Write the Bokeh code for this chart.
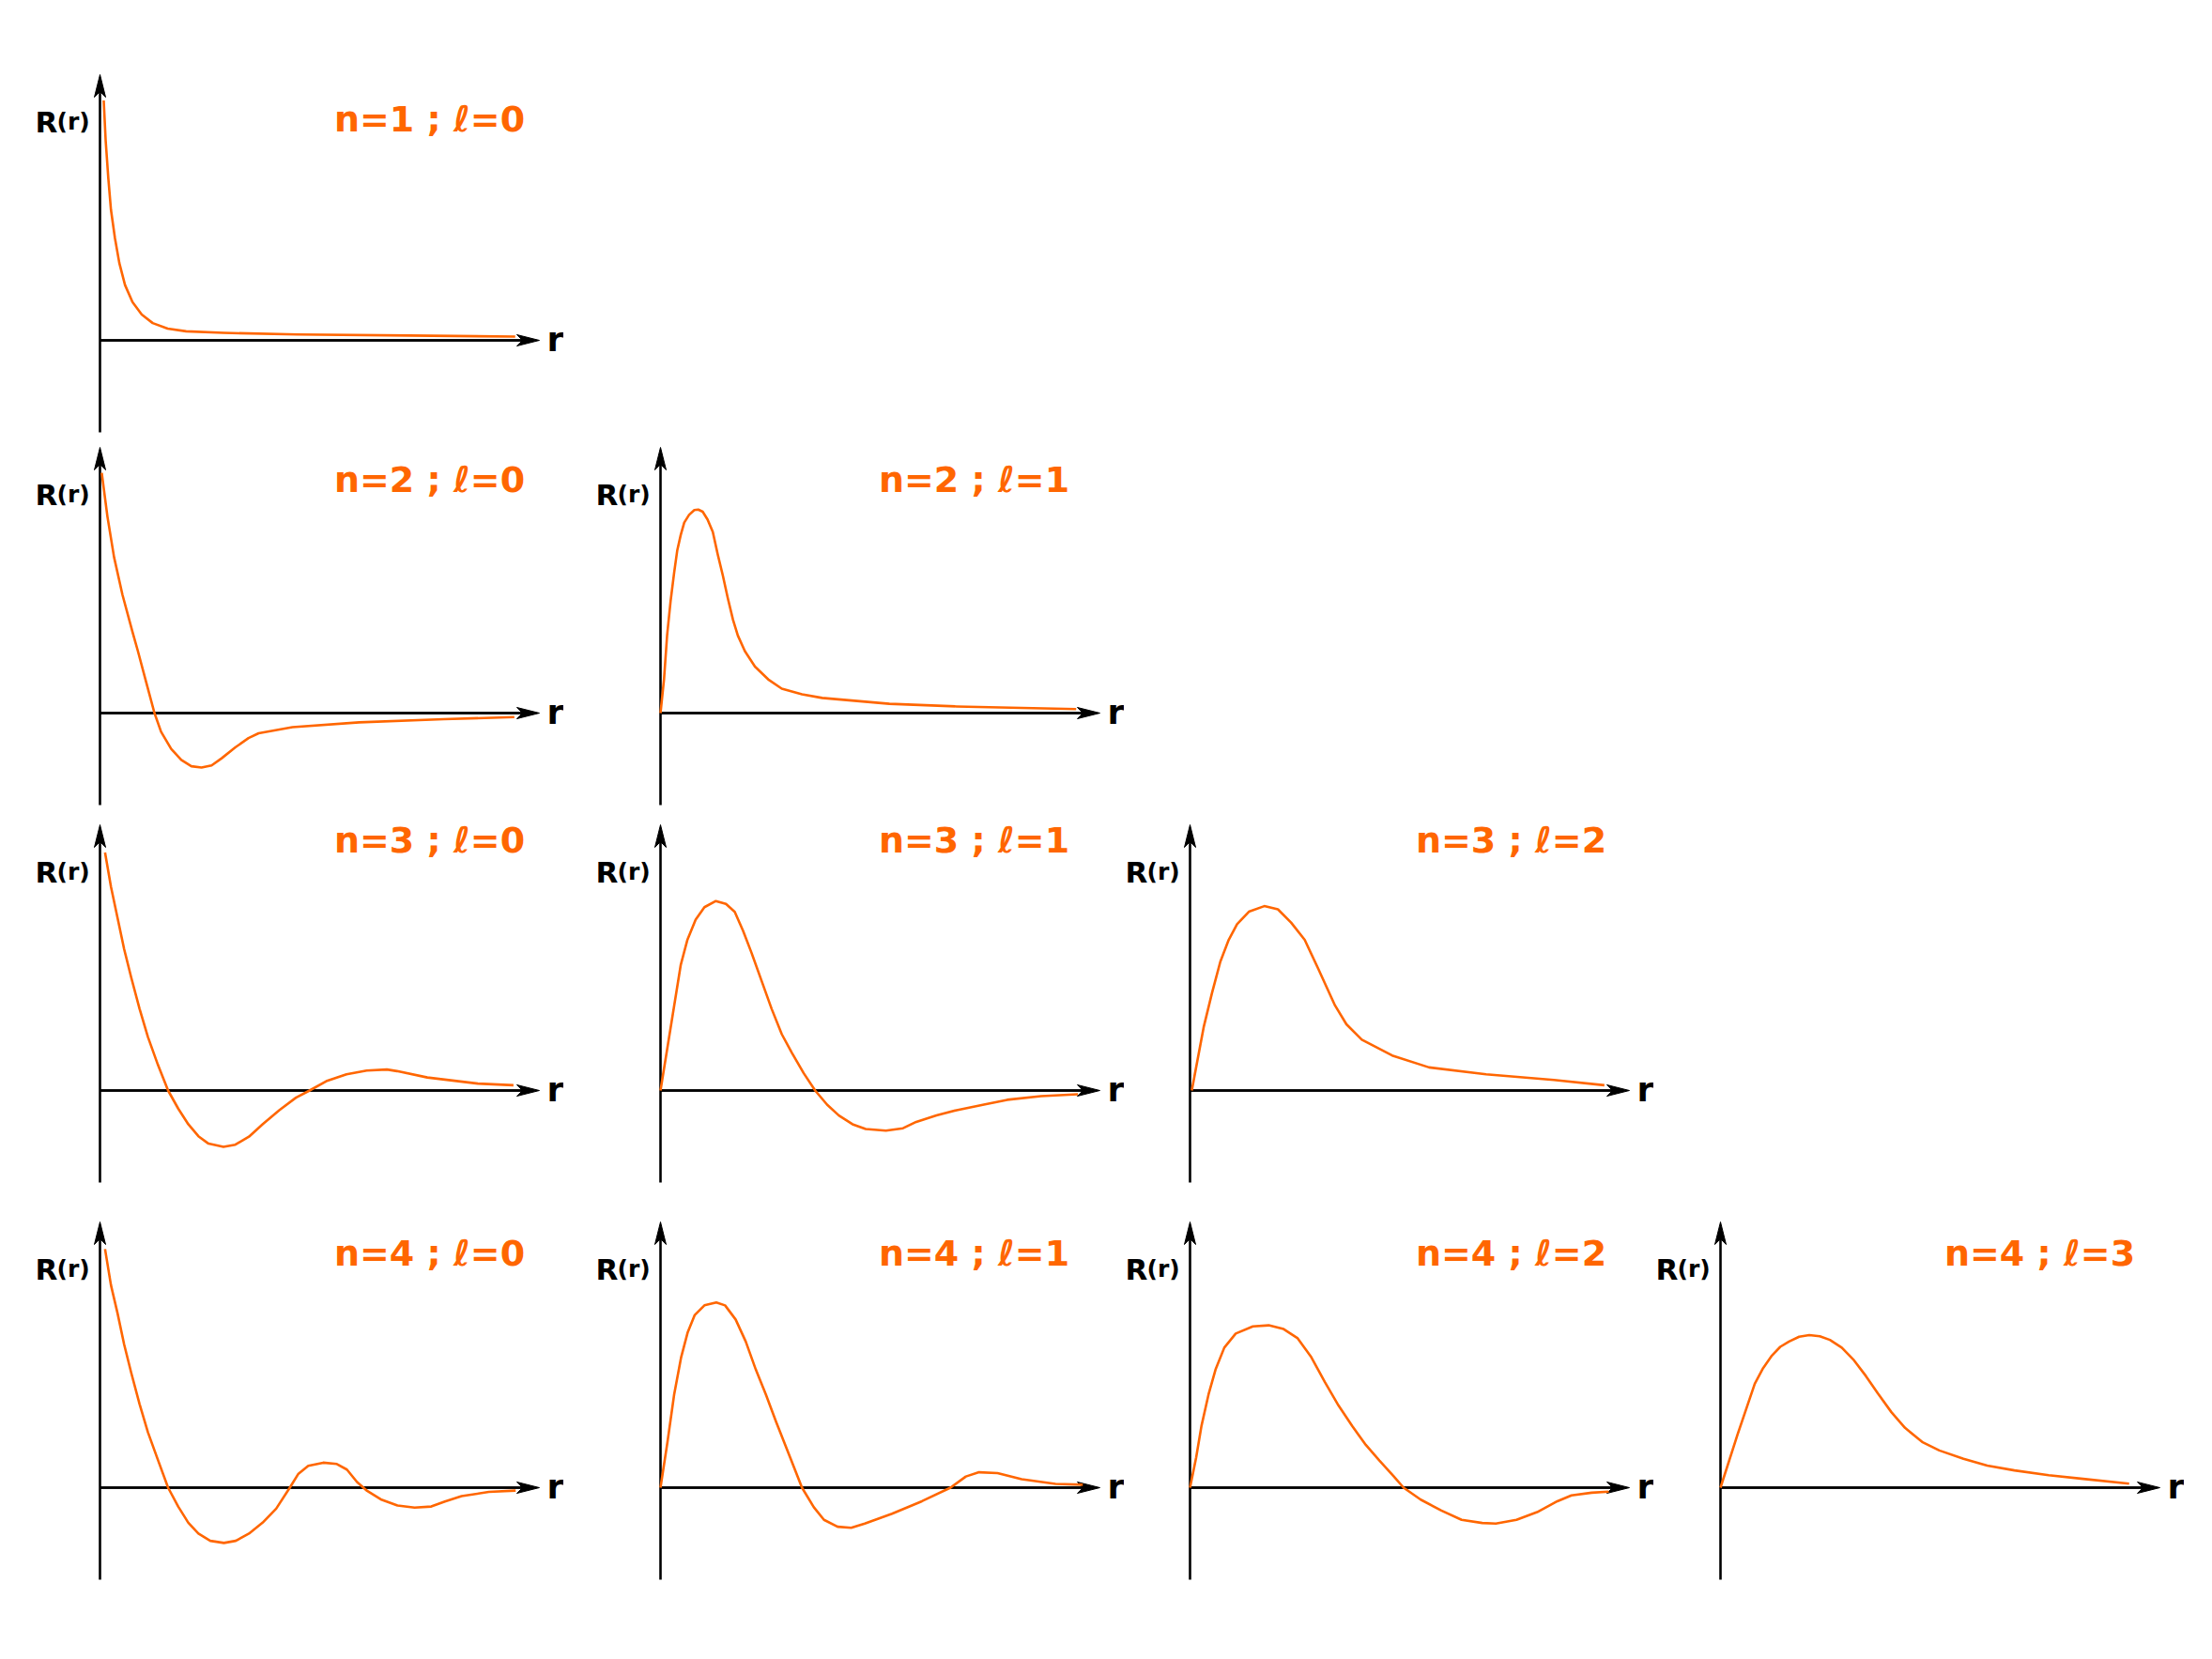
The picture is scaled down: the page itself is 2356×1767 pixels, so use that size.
from bokeh.plotting import figure
from bokeh.layouts import column, row
from bokeh.models import Range1d, Spacer
from bokeh.core.properties import value
from bokeh.embed import file_html
from bokeh.resources import INLINE

# ---------------- data (r along axis 0..10, R with top of axis = 10) ----------------
r_10 = [0.085, 0.13, 0.19, 0.25, 0.34, 0.44, 0.57, 0.74, 0.95, 1.2, 1.54, 1.96, 2.81, 4.5, 7.04, 9.45]
R_10 = [9.03, 7.5, 6.09, 4.91, 3.85, 2.91, 2.08, 1.44, 0.97, 0.65, 0.44, 0.34, 0.28, 0.22, 0.18, 0.14]

r_20 = [0.04, 0.17, 0.32, 0.51, 0.74, 0.86, 1.05, 1.24, 1.39, 1.62, 1.85, 2.08, 2.31, 2.54, 2.77,
        3.08, 3.38, 3.61, 4.38, 5.9, 7.82, 9.43]
R_20 = [9.04, 7.39, 5.87, 4.46, 3.05, 2.35, 1.17, 0.0, -0.70, -1.35, -1.76, -2.0, -2.05, -1.97, -1.70,
        -1.29, -0.94, -0.76, -0.53, -0.35, -0.23, -0.15]

r_21 = [0.0, 0.08, 0.15, 0.23, 0.31, 0.38, 0.46, 0.54, 0.65, 0.77, 0.86, 0.96, 1.07, 1.19, 1.30, 1.42,
        1.53, 1.65, 1.76, 1.92, 2.15, 2.45, 2.76, 3.22, 3.68, 5.21, 6.74, 9.46]
R_21 = [0.0, 1.27, 2.92, 4.22, 5.28, 6.11, 6.70, 7.17, 7.46, 7.64, 7.66, 7.58, 7.29, 6.82, 5.99, 5.17,
        4.34, 3.51, 2.92, 2.33, 1.75, 1.27, 0.92, 0.71, 0.57, 0.35, 0.25, 0.15]

r_30 = [0.115, 0.25, 0.40, 0.55, 0.71, 0.90, 1.09, 1.32, 1.55, 1.78, 2.01, 2.24, 2.47, 2.81, 3.08, 3.39,
        3.70, 4.08, 4.46, 4.77, 5.15, 5.61, 6.07, 6.53, 6.76, 7.45, 8.6, 9.41]
R_30 = [8.96, 7.67, 6.49, 5.32, 4.26, 3.08, 2.02, 0.96, 0.0, -0.68, -1.27, -1.72, -2.0, -2.12, -2.04, -1.74,
        -1.27, -0.74, -0.27, 0.0, 0.35, 0.61, 0.75, 0.79, 0.73, 0.49, 0.26, 0.2]

r_31 = [0.0, 0.23, 0.46, 0.61, 0.80, 1.0, 1.26, 1.49, 1.69, 1.88, 2.07, 2.30, 2.53, 2.76, 2.99, 3.26,
        3.52, 3.79, 4.06, 4.37, 4.67, 5.13, 5.52, 5.82, 6.28, 6.74, 7.36, 7.89, 8.66, 9.5]
R_31 = [0.0, 2.36, 4.72, 5.66, 6.43, 6.9, 7.13, 7.02, 6.72, 6.01, 5.19, 4.13, 3.07, 2.12, 1.42, 0.65,
        0.0, -0.53, -0.94, -1.27, -1.45, -1.51, -1.42, -1.18, -0.94, -0.74, -0.53, -0.35, -0.21, -0.14]

r_32 = [0.04, 0.31, 0.50, 0.69, 0.88, 1.07, 1.34, 1.69, 2.0, 2.30, 2.61, 2.91, 3.30, 3.56, 3.91, 4.6,
        5.44, 6.74, 8.28, 9.43]
R_32 = [0.0, 2.38, 3.67, 4.85, 5.67, 6.26, 6.73, 6.94, 6.82, 6.32, 5.67, 4.61, 3.2, 2.49, 1.91, 1.32,
        0.87, 0.61, 0.40, 0.2]

r_40 = [0.115, 0.25, 0.40, 0.55, 0.71, 0.9, 1.09, 1.32, 1.55, 1.78, 2.01, 2.24, 2.51, 2.82, 3.09, 3.39,
        3.70, 4.01, 4.32, 4.51, 4.74, 5.08, 5.39, 5.62, 5.85, 6.08, 6.39, 6.77, 7.16, 7.54, 7.85, 8.23,
        8.85, 9.46]
R_40 = [8.98, 7.62, 6.56, 5.39, 4.33, 3.15, 2.09, 1.04, 0.0, -0.71, -1.32, -1.73, -2.0, -2.08, -2.0, -1.73,
        -1.32, -0.79, 0.0, 0.51, 0.82, 0.94, 0.89, 0.68, 0.21, -0.12, -0.44, -0.67, -0.75, -0.71, -0.52, -0.32,
        -0.16, -0.11]

r_41 = [0.0, 0.16, 0.31, 0.47, 0.62, 0.78, 1.0, 1.27, 1.47, 1.71, 1.94, 2.17, 2.40, 2.64, 2.95, 3.22,
        3.49, 3.72, 4.03, 4.34, 4.65, 5.27, 5.95, 6.6, 6.95, 7.25, 7.67, 8.22, 8.99, 9.61]
R_41 = [0.0, 1.73, 3.5, 4.91, 5.85, 6.5, 6.86, 6.97, 6.86, 6.33, 5.5, 4.44, 3.5, 2.44, 1.14, 0.0,
        -0.74, -1.21, -1.47, -1.51, -1.35, -0.98, -0.51, 0.0, 0.42, 0.58, 0.55, 0.32, 0.14, 0.11]

r_42 = [0.0, 0.14, 0.26, 0.42, 0.58, 0.78, 1.04, 1.43, 1.79, 2.13, 2.45, 2.76, 3.07, 3.38, 3.69, 4.0,
        4.31, 4.63, 4.86, 5.25, 5.72, 6.18, 6.65, 6.96, 7.43, 7.9, 8.36, 8.68, 9.14, 9.53]
R_42 = [0.0, 1.14, 2.32, 3.5, 4.44, 5.27, 5.8, 6.07, 6.11, 5.97, 5.62, 4.91, 3.97, 3.09, 2.32, 1.61,
        1.02, 0.44, 0.0, -0.45, -0.86, -1.21, -1.33, -1.35, -1.21, -0.92, -0.51, -0.29, -0.19, -0.15]

r_43 = [0.0, 0.39, 0.78, 0.97, 1.17, 1.36, 1.56, 1.79, 2.02, 2.26, 2.49, 2.76, 3.04, 3.31, 3.58, 3.89,
        4.2, 4.59, 4.98, 5.53, 6.07, 6.69, 7.47, 8.25, 9.3]
R_43 = [0.0, 2.01, 3.91, 4.5, 4.97, 5.3, 5.5, 5.68, 5.74, 5.7, 5.56, 5.27, 4.79, 4.2, 3.55, 2.84,
        2.25, 1.72, 1.40, 1.09, 0.83, 0.65, 0.47, 0.33, 0.15]

quantum_n = [1, 2, 2, 3, 3, 3, 4, 4, 4, 4]
quantum_l = [0, 0, 1, 0, 1, 2, 0, 1, 2, 3]
curves_r = [r_10, r_20, r_21, r_30, r_31, r_32, r_40, r_41, r_42, r_43]
curves_R = [R_10, R_20, R_21, R_30, R_31, R_32, R_40, R_41, R_42, R_43]

# ---------------- layout / style constants (pixels) ----------------
COL_X = [106, 703, 1267, 1832]     # page x of each column's vertical axis
ROW_Y = [362, 759, 1161, 1584]     # page y of each row's horizontal axis
AX_LEN, UP, DOWN = 468, 283, 98
PAD_L, PAD_R, PAD_T, PAD_B = 70, 26, 10, 4
W = PAD_L + AX_LEN + PAD_R
H = PAD_T + UP + DOWN + PAD_B
TITLE_DX = [351, 334, 342, 340]    # title centre, px right of axis, per column
TITLE_Y = [236, 249, 267, 250]     # title centre, px above x-axis, per row
ORANGE = "#FF6600"
FONT = value("DejaVu Sans")

SX = AX_LEN / 10.0   # px per r unit
SY = UP / 10.0       # px per R unit


def panel(n, l, rr, RR, row_i, col_i):
    p = figure(width=W, height=H, x_axis_type=None, y_axis_type=None,
               x_range=Range1d(-PAD_L / SX, 10 + PAD_R / SX),
               y_range=Range1d(-(DOWN + PAD_B) / SY, 10 + PAD_T / SY),
               toolbar_location=None, output_backend="svg", min_border=0)
    p.outline_line_color = None
    p.background_fill_color = "white"
    p.border_fill_color = "white"

    # axes with arrow heads
    p.segment(x0=[0, 0], y0=[-DOWN / SY, 0], x1=[0, 10 - 10 / SY], y1=[10 - 10 / SY, 0],
              line_color="black", line_width=2.6)
    p.segment(x0=[0], y0=[0], x1=[10 - 10 / SX], y1=[0], line_color="black", line_width=2.6)
    hl, hw, nd = 24.0, 6.0, 6.0
    p.patch(x=[10, 10 - hl / SX, 10 - (hl - nd) / SX, 10 - hl / SX],
            y=[0, hw / SY, 0, -hw / SY], fill_color="black", line_color="black", line_width=1)
    p.patch(x=[0, hw / SX, 0, -hw / SX],
            y=[10, 10 - hl / SY, 10 - (hl - nd) / SY, 10 - hl / SY],
            fill_color="black", line_color="black", line_width=1)

    # curve
    p.line(rr, RR, line_color=ORANGE, line_width=2.6, line_join="round")

    # labels
    p.text(x=[-69 / SX], y=[233 / SY], text=["R"], text_font=FONT, text_font_style="bold",
           text_font_size="31px", text_color="black", text_baseline="alphabetic", text_align="left")
    p.text(x=[-46 / SX], y=[233 / SY], text=["(r)"], text_font=FONT, text_font_style="bold",
           text_font_size="25px", text_color="black", text_baseline="alphabetic", text_align="left")
    p.text(x=[10 + 8 / SX], y=[1 / SY], text=["r"], text_font=FONT, text_font_style="bold",
           text_font_size="36px", text_color="black", text_baseline="alphabetic", text_align="left")
    p.text(x=[TITLE_DX[col_i] / SX], y=[TITLE_Y[row_i] / SY],
           text=[f"n={n} ; \u2113={l}"], text_font=FONT, text_font_style="bold",
           text_font_size="38px", text_color=ORANGE, text_baseline="alphabetic", text_align="center")
    return p


# group panels by row (row = n-1, col = l)
rows_children = []
y_cursor = 0
for ri in range(4):
    items = []
    x_cursor = 0
    for k in range(len(quantum_n)):
        if quantum_n[k] - 1 != ri:
            continue
        ci = quantum_l[k]
        left = COL_X[ci] - PAD_L
        if left > x_cursor:
            items.append(Spacer(width=left - x_cursor, height=H))
        items.append(panel(quantum_n[k], quantum_l[k], curves_r[k], curves_R[k], ri, ci))
        x_cursor = left + W
    top = ROW_Y[ri] - UP - PAD_T
    if top > y_cursor:
        rows_children.append(Spacer(width=10, height=top - y_cursor))
    rows_children.append(row(*items, spacing=0))
    y_cursor = top + H

layout = column(*rows_children, spacing=0)

html = file_html(layout, INLINE, title="R(r)")
html = html.replace("<body>", '<body style="margin:0;padding:0;background:white">', 1)
open("out.html", "w").write(html)
